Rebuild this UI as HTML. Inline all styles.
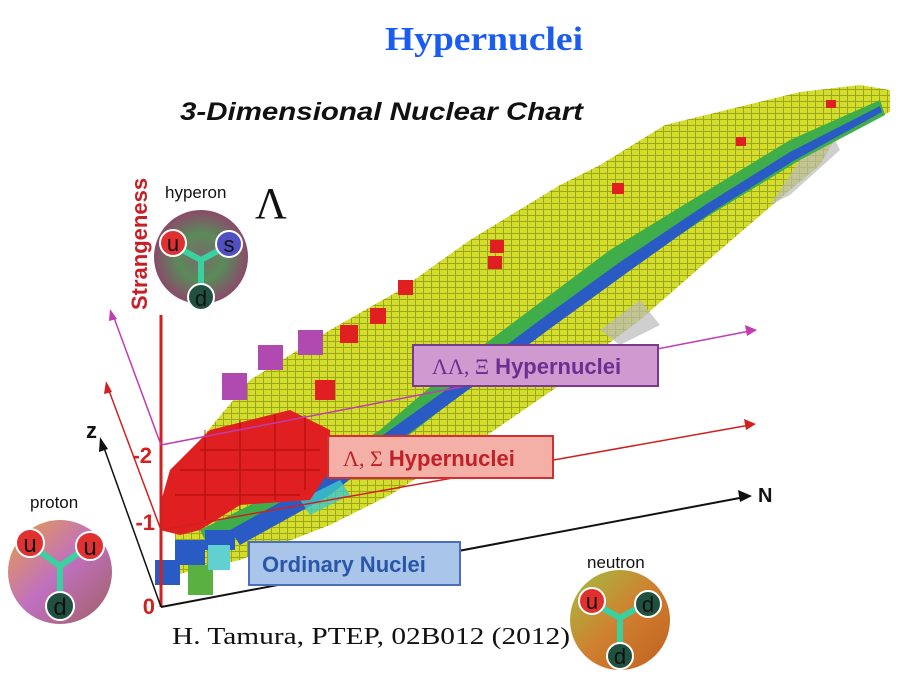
<!DOCTYPE html>
<html><head><meta charset="utf-8"><style>
body{margin:0;background:#fff;width:902px;height:677px;overflow:hidden;position:relative;font-family:"Liberation Sans",sans-serif}
</style></head><body>
<svg width="902" height="677" viewBox="0 0 902 677" xmlns="http://www.w3.org/2000/svg" style="position:absolute;left:0;top:0">
<defs>
<radialGradient id="hyp" cx="50%" cy="50%" r="50%"><stop offset="0" stop-color="#7a6a6a"/><stop offset="0.5" stop-color="#5a8a5a"/><stop offset="1" stop-color="#8a4a6a"/></radialGradient>
<linearGradient id="pro" x1="0" y1="0" x2="1" y2="1"><stop offset="0" stop-color="#e8a040"/><stop offset="0.5" stop-color="#c070c0"/><stop offset="1" stop-color="#a06060"/></linearGradient>
<linearGradient id="neu" x1="0" y1="0" x2="1" y2="1"><stop offset="0" stop-color="#a0c040"/><stop offset="0.5" stop-color="#d08030"/><stop offset="1" stop-color="#c06020"/></linearGradient>
<pattern id="grid" width="8" height="6" patternUnits="userSpaceOnUse"><rect width="8" height="6" fill="#d4de2a"/><path d="M0 5.5H8M7.5 0V6" stroke="#9aa520" stroke-width="1"/></pattern>
</defs>
<text x="385" y="50" textLength="198" lengthAdjust="spacingAndGlyphs" font-family="Liberation Serif,serif" font-weight="bold" font-size="34" fill="#1a5cf0">Hypernuclei</text>
<text x="180" y="120" textLength="403" lengthAdjust="spacingAndGlyphs" font-weight="bold" font-style="italic" font-size="25" fill="#111">3-Dimensional Nuclear Chart</text>
<!-- band -->
<polygon fill="url(#grid)" points="175,470 250,380 330,330 400,290 470,240 560,185 600,165 665,125 800,92 860,85 890,90 890,112 840,130 820,165 790,190 720,250 640,320 580,365 560,385 480,440 430,470 390,495 330,525 240,560 175,575"/>
<polygon fill="#bbb" opacity="0.7" points="800,160 830,130 840,150 790,195 770,205"/>
<polygon fill="#bbb" opacity="0.7" points="600,330 640,300 660,325 620,345"/>
<polygon fill="#3fae4a" points="200,530 300,480 380,430 450,370 530,310 610,250 700,195 790,140 880,100 885,115 800,160 710,215 620,275 540,335 460,395 390,450 310,500 210,550"/>
<polygon fill="#2a5bc4" points="230,530 320,480 390,430 460,380 540,320 620,262 705,205 790,152 880,106 882,112 795,160 712,212 628,272 548,330 468,390 400,440 330,495 240,545"/>
<polygon fill="#3cc8c8" opacity="0.8" points="300,500 340,480 350,495 310,515"/>
<!-- red cluster -->
<polygon fill="#e02020" points="170,470 210,430 290,410 330,430 330,470 310,500 240,505 200,530 180,535 160,530 160,505"/>
<g fill="#b01010" opacity="0.5"><path d="M180 470H320M175 495H300M200 450H320M205 430V520M240 420V510M275 415V500M305 415V490" stroke="#900" stroke-width="1.5"/></g>
<rect x="170" y="505" width="18" height="25" fill="#e02020"/>
<g fill="#e02020">
<rect x="340" y="325" width="18" height="18"/><rect x="370" y="308" width="16" height="16"/><rect x="398" y="280" width="15" height="15"/>
<rect x="490" y="240" width="14" height="13"/><rect x="488" y="256" width="14" height="13"/><rect x="612" y="183" width="12" height="11"/>
<rect x="736" y="137" width="10" height="9"/><rect x="826" y="100" width="10" height="8"/><rect x="315" y="380" width="20" height="20"/>
</g>
<g fill="#b04ab0"><rect x="222" y="373" width="25" height="27"/><rect x="258" y="345" width="25" height="25"/><rect x="298" y="330" width="25" height="25"/></g>
<g fill="#2a5bc4"><rect x="155" y="560" width="25" height="25"/><rect x="175" y="540" width="30" height="25"/><rect x="205" y="530" width="30" height="20"/></g>
<rect x="188" y="565" width="25" height="30" fill="#5ab040"/><rect x="208" y="545" width="22" height="25" fill="#60d0d0"/>
<!-- axes -->
<line x1="161" y1="315" x2="161" y2="607" stroke="#d02020" stroke-width="3"/>
<line x1="161" y1="607" x2="745" y2="497" stroke="#111" stroke-width="2"/>
<polygon points="752,496 738,490 740,502" fill="#111"/>
<line x1="161" y1="607" x2="103" y2="445" stroke="#111" stroke-width="1.5"/>
<polygon points="100,437 99,452 108,449" fill="#111"/>
<line x1="161" y1="530" x2="750" y2="425" stroke="#d02020" stroke-width="1.5"/>
<polygon points="756,424 744,419 746,430" fill="#d02020"/>
<line x1="161" y1="530" x2="108" y2="388" stroke="#d02020" stroke-width="1.5"/>
<polygon points="106,381 104,394 112,392" fill="#d02020"/>
<line x1="161" y1="445" x2="750" y2="331" stroke="#c03cb0" stroke-width="1.5"/>
<polygon points="757,330 745,325 747,336" fill="#c03cb0"/>
<line x1="161" y1="445" x2="113" y2="315" stroke="#c03cb0" stroke-width="1.5"/>
<polygon points="110,309 109,321 117,319" fill="#c03cb0"/>
<text x="152" y="463" text-anchor="end" font-weight="bold" font-size="22" fill="#d02020">-2</text>
<text x="155" y="530" text-anchor="end" font-weight="bold" font-size="22" fill="#d02020">-1</text>
<text x="155" y="614" text-anchor="end" font-weight="bold" font-size="22" fill="#d02020">0</text>
<text x="86" y="438" font-weight="bold" font-size="22" fill="#111">z</text>
<text x="758" y="502" font-weight="bold" font-size="20" fill="#111">N</text>
<text transform="translate(147,310) rotate(-90)" font-weight="bold" font-size="22" fill="#c81e28">Strangeness</text>
<!-- labels boxes -->
<rect x="413" y="345" width="245" height="41" fill="#cf9ad0" stroke="#7a3a8c" stroke-width="2"/>
<text x="432" y="374" font-size="22" font-weight="bold" fill="#6b2f8f"><tspan font-family="Liberation Serif,serif" font-weight="normal">ΛΛ, Ξ</tspan> Hypernuclei</text>
<rect x="328" y="436" width="225" height="42" fill="#f4b0a6" stroke="#d03030" stroke-width="2"/>
<text x="343" y="466" font-size="22" font-weight="bold" fill="#c0202a"><tspan font-family="Liberation Serif,serif" font-weight="normal">Λ, Σ</tspan> Hypernuclei</text>
<rect x="249" y="542" width="211" height="43" fill="#a9c5ea" stroke="#4a6fb8" stroke-width="2"/>
<text x="262" y="572" font-size="22" font-weight="bold" fill="#2a56a8">Ordinary Nuclei</text>
<!-- particles -->
<text x="165" y="198" font-size="17" fill="#111">hyperon</text>
<text x="255" y="218" font-family="Liberation Serif,serif" font-size="44" fill="#111">Λ</text>
<circle cx="201" cy="257" r="47" fill="url(#hyp)"/>
<path d="M201 260L173 245M201 260L229 245M201 260V292" stroke="#3ad0a0" stroke-width="6"/>
<circle cx="173" cy="243" r="13" fill="#e03030" stroke="#fff" stroke-width="2"/><text x="173" y="251" text-anchor="middle" font-size="22" fill="#111">u</text>
<circle cx="229" cy="244" r="13" fill="#5050c0" stroke="#fff" stroke-width="2"/><text x="229" y="252" text-anchor="middle" font-size="22" fill="#111">s</text>
<circle cx="201" cy="297" r="13" fill="#205040" stroke="#fff" stroke-width="2"/><text x="201" y="306" text-anchor="middle" font-size="22" fill="#111">d</text>
<text x="30" y="508" font-size="17" fill="#111">proton</text>
<circle cx="60" cy="572" r="52" fill="url(#pro)"/>
<path d="M60 566L30 545M60 566L90 545M60 566V605" stroke="#3ad0a0" stroke-width="6"/>
<circle cx="30" cy="543" r="14" fill="#e03030" stroke="#fff" stroke-width="2"/><text x="30" y="552" text-anchor="middle" font-size="24" fill="#111">u</text>
<circle cx="90" cy="546" r="14" fill="#e03030" stroke="#fff" stroke-width="2"/><text x="90" y="555" text-anchor="middle" font-size="24" fill="#111">u</text>
<circle cx="60" cy="606" r="14" fill="#205040" stroke="#fff" stroke-width="2"/><text x="60" y="615" text-anchor="middle" font-size="24" fill="#111">d</text>
<text x="587" y="568" font-size="17" fill="#111">neutron</text>
<circle cx="620" cy="620" r="50" fill="url(#neu)"/>
<path d="M620 618L592 602M620 618L648 602M620 618V655" stroke="#3ad0a0" stroke-width="6"/>
<circle cx="592" cy="601" r="13" fill="#e03030" stroke="#fff" stroke-width="2"/><text x="592" y="609" text-anchor="middle" font-size="22" fill="#111">u</text>
<circle cx="648" cy="604" r="13" fill="#205040" stroke="#fff" stroke-width="2"/><text x="648" y="612" text-anchor="middle" font-size="22" fill="#111">d</text>
<circle cx="620" cy="656" r="13" fill="#205040" stroke="#fff" stroke-width="2"/><text x="620" y="664" text-anchor="middle" font-size="22" fill="#111">d</text>
<text x="172" y="644" textLength="398" lengthAdjust="spacingAndGlyphs" font-family="Liberation Serif,serif" font-size="24" fill="#111">H. Tamura, PTEP, 02B012 (2012)</text>
</svg>
</body></html>
